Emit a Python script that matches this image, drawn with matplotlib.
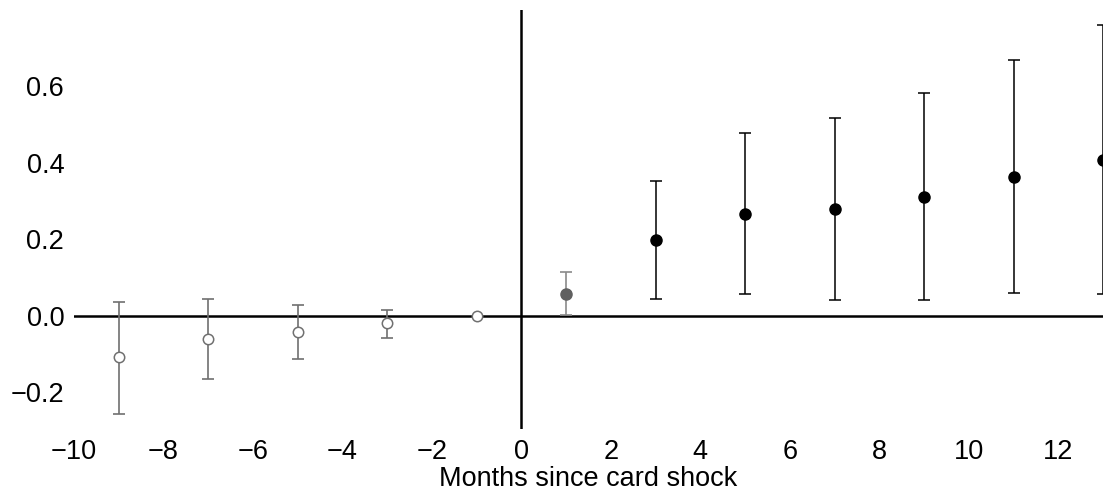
import numpy as np
import matplotlib.pyplot as plt

plt.rcParams['font.family'] = ['Liberation Sans', 'DejaVu Sans']

# event-study estimates, months since card shock
pre_months = [-9, -7, -5, -3, -1]
pre_coef = [-0.107, -0.061, -0.043, -0.020, 0.0]
pre_lo = [-0.256, -0.166, -0.113, -0.058, 0.0]
pre_hi = [0.037, 0.044, 0.029, 0.016, 0.0]

m1_month = [1]
m1_coef = [0.057]
m1_lo = [0.001]
m1_hi = [0.115]

post_months = [3, 5, 7, 9, 11, 13]
post_coef = [0.198, 0.266, 0.279, 0.311, 0.363, 0.406]
post_lo = [0.044, 0.057, 0.042, 0.040, 0.059, 0.056]
post_hi = [0.352, 0.477, 0.516, 0.581, 0.668, 0.758]

xticks = list(range(-10, 13, 2))
yticks = [-0.2, 0.0, 0.2, 0.4, 0.6]


def err(coef, lo, hi):
    coef = np.array(coef)
    return [coef - np.array(lo), np.array(hi) - coef]


fig = plt.figure(figsize=(11.03, 4.97), dpi=100)
ax = fig.add_axes([0.067, 0.137, 0.933, 0.843])

ax.axhline(0, color='black', lw=1.8, zorder=1)
ax.axvline(0, color='black', lw=1.8, zorder=1)

# pre-period: open grey circles (skip bar at -1, it's the reference month)
ax.errorbar(pre_months[:-1], pre_coef[:-1], yerr=err(pre_coef[:-1], pre_lo[:-1], pre_hi[:-1]),
            fmt='none', ecolor='#707070', elinewidth=1.2, capsize=4, capthick=1.2, zorder=2)
ax.plot(pre_months, pre_coef, 'o', ms=7.5, mfc='white', mec='#707070', mew=1.1, zorder=3)

ax.errorbar(m1_month, m1_coef, yerr=err(m1_coef, m1_lo, m1_hi), fmt='o', color='#606060',
            ecolor='#8a8a8a', ms=8, elinewidth=1.2, capsize=4, capthick=1.2, zorder=3)

ax.errorbar(post_months, post_coef, yerr=err(post_coef, post_lo, post_hi), fmt='o', color='black',
            ecolor='black', ms=8, elinewidth=1.1, capsize=4, capthick=1.1, zorder=3)

ax.set_xlim(-10, 13)
ax.set_ylim(-0.295, 0.798)
ax.set_xticks(xticks)
ax.set_xticklabels([str(t).replace('-', '\u2212') for t in xticks])
ax.set_yticks(yticks)
ax.set_yticklabels([f'{t:.1f}'.replace('-', '\u2212') for t in yticks])
ax.tick_params(length=0, labelsize=19.5, pad=7)
for s in ax.spines.values():
    s.set_visible(False)
ax.set_xlabel('Months since card shock', fontsize=19.5, labelpad=1)

fig.savefig('out.png', dpi=100)
